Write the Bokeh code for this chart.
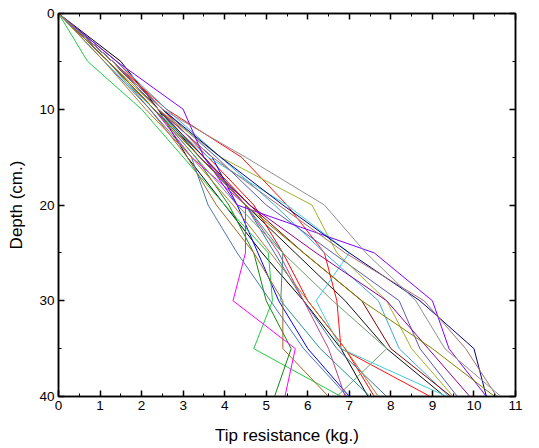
from bokeh.plotting import figure
from bokeh.models import Range1d, LinearAxis, FixedTicker, CustomJSTickFormatter
from bokeh.embed import file_html
from bokeh.resources import INLINE

depth = [0, 5, 10, 15, 20, 25, 30, 35, 40]

black_a = [0, 1.5, 2.4, 3.1, 4.0, 4.9, 5.9, 6.8, 7.45]
black_b = [0, 1.3, 2.4, 3.4, 4.5, 5.7, 6.9, 7.9, 9.3]
red_a = [0, 1.4, 2.5, 3.6, 4.7, 5.4, 6.0, 6.9, 7.6]
red_b = [0, 1.3, 2.6, 4.4, 5.5, 6.4, 6.7, 6.8, 8.95]
blue = [0, 1.3, 2.4, 3.7, 4.3, 4.8, 5.3, 6.0, 7.0]
green = [0, 0.7, 2.0, 3.0, 4.0, 5.05, 5.15, 4.7, 6.8]
dark_green = [0, 1.2, 2.3, 3.3, 4.1, 4.7, 5.0, 5.6, 5.2]
magenta = [0, 1.2, 2.3, 3.2, 4.5, 4.5, 4.2, 5.7, 5.45]
brown = [0, 1.2, 2.2, 3.1, 3.8, 4.7, 5.4, 5.4, 6.5]
steel_a = [0, 1.1, 2.2, 3.2, 3.6, 4.3, 5.1, 5.9, 6.95]
steel_b = [0, 1.3, 2.4, 3.5, 4.5, 5.2, 5.9, 6.7, 7.9]
teal = [0, 1.2, 2.3, 3.5, 4.5, 5.4, 5.35, 6.3, 7.5]
pink = [0, 1.3, 2.4, 3.5, 4.5, 5.3, 5.9, 6.5, 6.9]
sage = [0, 1.2, 2.3, 3.3, 4.3, 5.4, 6.6, 7.9, 6.7]
turquoise = [0, 1.1, 2.3, 3.6, 5.5, 7.0, 6.2, 6.8, 9.35]
sky = [0, 1.4, 2.6, 3.9, 5.2, 6.4, 7.7, 8.2, 9.4]
wine = [0, 1.3, 2.4, 3.5, 4.6, 5.9, 7.3, 8.0, 9.45]
slate = [0, 1.3, 2.5, 3.8, 5.0, 6.6, 8.2, 8.7, 9.6]
olive_y = [0, 1.2, 2.4, 3.9, 6.1, 6.7, 7.9, 8.5, 9.5]
purple = [0, 1.2, 2.3, 3.4, 4.6, 6.2, 7.9, 8.9, 9.9]
violet = [0, 1.4, 3.0, 3.5, 4.3, 7.6, 9.0, 9.4, 10.3]
navy = [0, 1.3, 2.5, 3.9, 5.4, 7.0, 8.7, 10.0, 10.3]
dark_olive = [0, 1.2, 2.3, 3.4, 4.5, 5.9, 7.3, 9.0, 10.5]
rosy = [0, 1.3, 2.4, 3.7, 5.3, 6.9, 8.8, 9.8, 10.55]
grey = [0, 1.3, 2.5, 4.5, 6.4, 7.4, 8.6, 9.3, 10.65]
orange = [0, 1.1, 2.1, 3.2, 4.2, 5.1, 6.0, 6.9, 7.7]

series = [
    (black_a, "#000000"), (black_b, "#111111"), (red_a, "#FF0000"), (red_b, "#FF1010"),
    (blue, "#0000FF"), (green, "#22CC44"), (dark_green, "#118811"), (magenta, "#FF00FF"),
    (brown, "#A0662A"), (steel_a, "#4A78B0"), (steel_b, "#3F6FA8"), (teal, "#2A9090"),
    (pink, "#C0408A"), (sage, "#6E9E6E"), (turquoise, "#40CCD8"), (sky, "#40A8DC"),
    (wine, "#800000"), (slate, "#5A5AB0"), (olive_y, "#A0B030"), (purple, "#900090"),
    (violet, "#8000FF"), (navy, "#000080"), (dark_olive, "#808000"), (rosy, "#A07070"),
    (grey, "#909090"), (orange, "#B07A30"),
]

p = figure(width=539, height=448, output_backend="svg", toolbar_location=None,
           x_range=Range1d(0, 11), y_range=Range1d(40, 0),
           min_border_left=58, min_border_right=24, min_border_top=13, min_border_bottom=52)
p.grid.visible = False
p.outline_line_color = "black"
p.outline_line_width = 1.5

for vals, col in series:
    p.line(vals, depth, line_color=col, line_width=1)

font = "Liberation Sans"
xticks = FixedTicker(ticks=list(range(0, 12)), minor_ticks=[i + 0.5 for i in range(11)])
yticks = FixedTicker(ticks=[0, 10, 20, 30, 40], minor_ticks=[5, 15, 25, 35])

def style(ax, ticker):
    ax.ticker = ticker
    ax.axis_line_color = "black"
    ax.axis_line_width = 1.5
    ax.major_tick_in = 6
    ax.major_tick_out = 0
    ax.minor_tick_in = 3
    ax.minor_tick_out = 0
    ax.major_tick_line_width = 1.5
    ax.minor_tick_line_width = 1
    ax.major_label_text_font = font
    ax.major_label_text_font_size = "13.5px"
    ax.major_label_text_color = "#000000"
    ax.major_label_standoff = 4
    ax.axis_label_text_font = font
    ax.axis_label_text_font_size = "17px"
    ax.axis_label_text_font_style = "normal"
    ax.axis_label_text_color = "#000000"

style(p.xaxis[0], xticks)
style(p.yaxis[0], yticks)
p.xaxis[0].axis_label = "Tip resistance (kg.)"
p.yaxis[0].axis_label = "Depth (cm.)"
p.xaxis[0].axis_label_standoff = 13
p.yaxis[0].axis_label_standoff = 10

top = LinearAxis()
style(top, xticks)
top.formatter = CustomJSTickFormatter(code="return ''")
top.major_label_standoff = 0
p.add_layout(top, "above")
right = LinearAxis()
style(right, yticks)
right.formatter = CustomJSTickFormatter(code="return ''")
right.major_label_standoff = 0
p.add_layout(right, "right")

open("out.html", "w").write(file_html(p, INLINE))
